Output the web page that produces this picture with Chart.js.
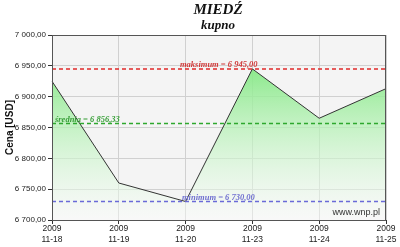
<!DOCTYPE html>
<html>
<head>
<meta charset="utf-8">
<script src="https://cdn.jsdelivr.net/npm/chart.js@4"></script>
<style>
  html, body { margin: 0; padding: 0; background: #fff; }
  #wrap { width: 400px; height: 247px; position: relative; }
</style>
</head>
<body>
<div id="wrap"><canvas id="chart"></canvas></div>
<script>
// data
const dates = [["2009", "11-18"], ["2009", "11-19"], ["2009", "11-20"], ["2009", "11-23"], ["2009", "11-24"], ["2009", "11-25"]];
const prices = [6925, 6760, 6730, 6945, 6865, 6913];
const maxValue = 6945.00;
const avgValue = 6856.33;
const minValue = 6730.00;
const yTicks = [6700, 6750, 6800, 6850, 6900, 6950, 7000];

const fmt = v => v.toFixed(2).replace(".", ",").replace(/\B(?=(\d{3})+(?!\d))/g, " ");

// title + reference-line labels + watermark
const decorPlugin = {
    id: "decor",
    beforeDraw(chart) {
        const { ctx, chartArea } = chart;
        ctx.save();
        ctx.fillStyle = "#f4f4f4";
        ctx.fillRect(chartArea.left, chartArea.top, chartArea.width, chartArea.height);
        ctx.restore();
    },
    afterDatasetsDraw(chart) {
        const { ctx, chartArea, scales } = chart;
        const y = scales.y;
        ctx.save();
        ctx.fillStyle = "#111";
        ctx.textAlign = "center";
        ctx.textBaseline = "alphabetic";
        ctx.font = "italic bold 15px 'Liberation Serif'";
        ctx.fillText("MIEDŹ", 218, 14);
        ctx.font = "italic bold 13px 'Liberation Serif'";
        ctx.fillText("kupno", 218, 29);

        ctx.textAlign = "left";
        ctx.font = "italic bold 8.5px 'Liberation Serif'";
        ctx.fillStyle = "#d03a3a";
        ctx.fillText("maksimum = " + fmt(maxValue), 180, y.getPixelForValue(maxValue) - 2);
        ctx.fillStyle = "#3aa03a";
        ctx.fillText("średnia = " + fmt(avgValue), 55, y.getPixelForValue(avgValue) - 2);
        ctx.fillStyle = "#7070d0";
        ctx.fillText("minimum = " + fmt(minValue), 182, y.getPixelForValue(minValue) - 2);

        ctx.fillStyle = "#333";
        ctx.textAlign = "right";
        ctx.font = "9px 'Liberation Sans'";
        ctx.fillText("www.wnp.pl", chartArea.right - 6, chartArea.bottom - 5);

        ctx.strokeStyle = "#555";
        ctx.lineWidth = 1;
        ctx.strokeRect(chartArea.left + 0.5, chartArea.top + 0.5, chartArea.width - 1, chartArea.height);
        ctx.restore();
    }
};

function greenFill(context) {
    const { ctx, chartArea } = context.chart;
    if (!chartArea) return "rgba(144,238,144,0.6)";
    const g = ctx.createLinearGradient(0, chartArea.top + 30, 0, chartArea.bottom);
    g.addColorStop(0, "rgba(130,232,130,0.95)");
    g.addColorStop(1, "rgba(255,255,255,0.4)");
    return g;
}

const refLine = (value, color) => ({
    data: dates.map(() => value),
    borderColor: color,
    borderWidth: 1.5,
    borderDash: [4, 3],
    pointRadius: 0,
    fill: false,
    order: 0
});

new Chart(document.getElementById("chart"), {
    type: "line",
    data: {
        labels: dates,
        datasets: [
            {
                data: prices,
                borderColor: "#333",
                borderWidth: 1,
                backgroundColor: greenFill,
                fill: "origin",
                tension: 0,
                pointRadius: 0,
                order: 5
            },
            refLine(maxValue, "#e02828"),
            refLine(avgValue, "#2ea82e"),
            refLine(minValue, "#6a6ad8")
        ]
    },
    options: {
        responsive: true,
        maintainAspectRatio: false,
        animation: false,
        layout: { padding: { top: 35, right: 14, left: 0, bottom: 0 } },
        plugins: { legend: { display: false }, tooltip: { enabled: false } },
        scales: {
            x: {
                offset: false,
                grid: { color: "#d0d0d0", tickColor: "#333", tickLength: 4 },
                border: { color: "#333" },
                ticks: { color: "#222", font: { family: "'Liberation Sans'", size: 8.5, lineHeight: 1.2 }, maxRotation: 0, padding: 0 },
                afterFit: s => { s.height = 27; }
            },
            y: {
                min: 6700,
                max: 7000,
                afterBuildTicks: s => { s.ticks = yTicks.map(v => ({ value: v })); },
                grid: { color: "#d0d0d0", tickColor: "#333", tickLength: 4 },
                border: { color: "#333" },
                ticks: { color: "#222", font: { family: "'Liberation Sans'", size: 8 }, padding: 2, callback: v => fmt(v) },
                title: { display: true, text: "Cena [USD]", color: "#111", font: { family: "'Liberation Sans'", size: 10, weight: "bold" }, padding: { top: 4, bottom: 0 } },
                afterFit: s => { s.width = 52; }
            }
        }
    },
    plugins: [decorPlugin]
});
</script>
</body>
</html>
